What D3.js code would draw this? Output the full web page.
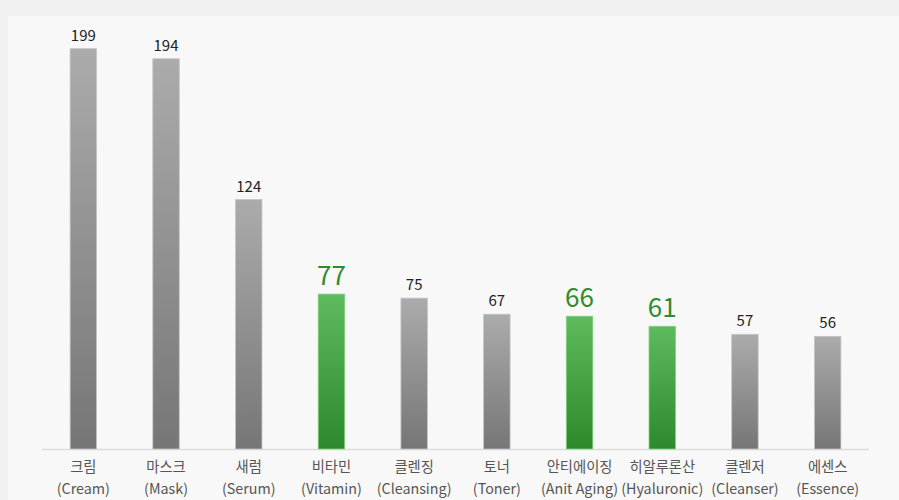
<!DOCTYPE html>
<html><head><meta charset="utf-8">
<script src="https://cdn.jsdelivr.net/npm/d3@7"></script>
<style>html,body{margin:0;padding:0;background:#f0f0f0;}svg{display:block;}</style>
</head><body>
<script>
const categoriesKo = ["크림","마스크","새럼","비타민","클렌징","토너","안티에이징","히알루론산","클렌저","에센스"];
const categoriesEn = ["(Cream)","(Mask)","(Serum)","(Vitamin)","(Cleansing)","(Toner)","(Anit Aging)","(Hyaluronic)","(Cleanser)","(Essence)"];
const values = [199,194,124,77,75,67,66,61,57,56];
const highlighted = [false,false,false,true,false,false,true,true,false,false];

const W = 899, H = 500;
const svg = d3.select("body").append("svg").attr("width", W).attr("height", H);
const defs = svg.append("defs");
const gg = defs.append("linearGradient").attr("id","gGrey").attr("x1",0).attr("y1",0).attr("x2",0).attr("y2",1);
gg.append("stop").attr("offset","0%").attr("stop-color","#ababab");
gg.append("stop").attr("offset","100%").attr("stop-color","#767676");
const gn = defs.append("linearGradient").attr("id","gGreen").attr("x1",0).attr("y1",0).attr("x2",0).attr("y2",1);
gn.append("stop").attr("offset","0%").attr("stop-color","#5dba5d");
gn.append("stop").attr("offset","100%").attr("stop-color","#2c8a2c");

svg.append("rect").attr("x",0).attr("y",0).attr("width",W).attr("height",H).attr("fill","#f0f0f0");
svg.append("rect").attr("x",8).attr("y",16).attr("width",W-8).attr("height",H-16).attr("fill","#f8f8f8");

const x = d3.scaleBand().domain(d3.range(values.length)).range([42, 869]).paddingInner(0.68).paddingOuter(0.34);
const y = d3.scaleLinear().domain([0, 199]).range([449, 48.7]);

svg.append("line").attr("x1",42).attr("x2",869).attr("y1",449.5).attr("y2",449.5).attr("stroke","#dcdcdc").attr("stroke-width",1.5);

const font = "'Noto Sans CJK KR','Noto Sans',sans-serif";

svg.selectAll("rect.bar").data(values).join("rect").attr("class","bar")
  .attr("x",(d,i)=>x(i)).attr("width",x.bandwidth())
  .attr("y",d=>y(d)).attr("height",d=>y(0)-y(d))
  .attr("fill",(d,i)=>highlighted[i]?"url(#gGreen)":"url(#gGrey)")
  .attr("stroke",(d,i)=>highlighted[i]?"#7fcf7f":"#c4c4c4").attr("stroke-width",0.8);

svg.selectAll("text.val").data(values).join("text").attr("class","val")
  .attr("x",(d,i)=>x(i)+x.bandwidth()/2)
  .attr("y",(d,i)=>y(d)-(highlighted[i]?9:8))
  .attr("text-anchor","middle")
  .attr("font-family",font)
  .attr("font-size",(d,i)=>highlighted[i]?26:15)
  .attr("fill",(d,i)=>highlighted[i]?"#2e8b2e":"#222")
  .text(d=>d);

const lab = svg.selectAll("g.lab").data(values).join("g").attr("class","lab")
  .attr("transform",(d,i)=>`translate(${x(i)+x.bandwidth()/2},0)`);
lab.append("text").attr("y",472).attr("text-anchor","middle").attr("font-family",font).attr("font-size",14.3).attr("fill","#555").text((d,i)=>categoriesKo[i]);
lab.append("text").attr("y",494).attr("text-anchor","middle").attr("font-family",font).attr("font-size",14.3).attr("fill","#555").text((d,i)=>categoriesEn[i]);
</script>
</body></html>
